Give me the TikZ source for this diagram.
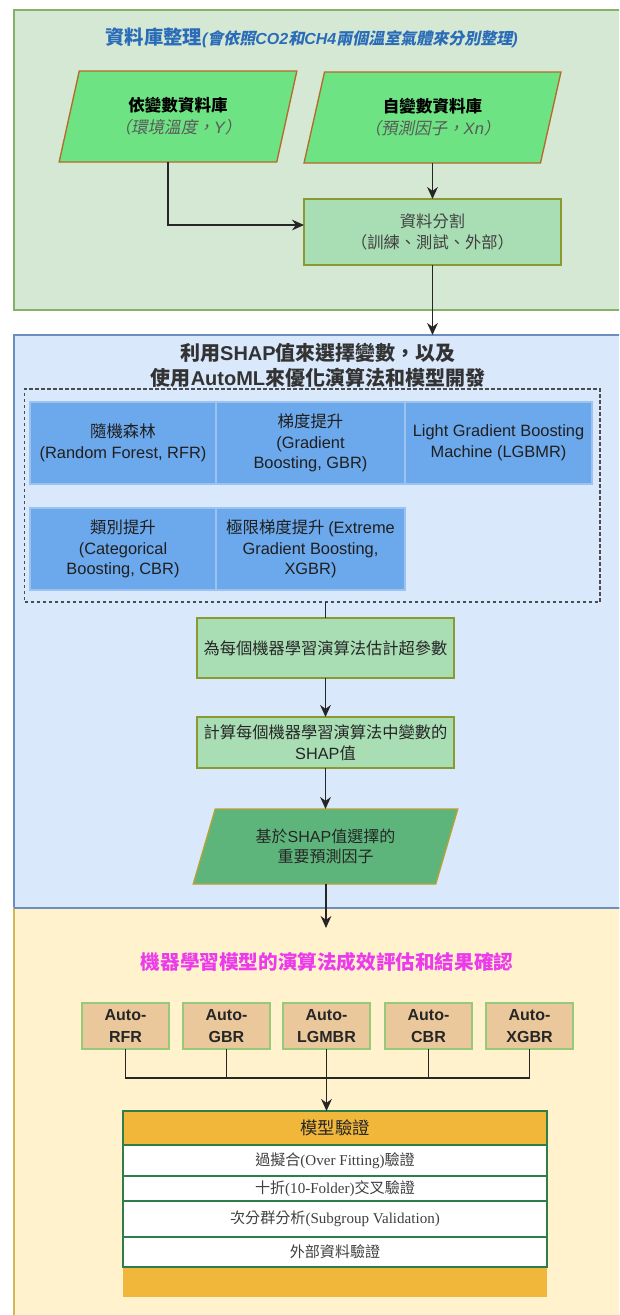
\documentclass[tikz,border=0pt]{standalone}
\usepackage{fontspec}
\setmainfont{Liberation Sans}
\newfontfamily\cjkfam{Noto Sans CJK TC}[
  ItalicFont={Noto Sans CJK TC},ItalicFeatures={FakeSlant=0.2},
  BoldItalicFont={Noto Sans CJK TC/B},BoldItalicFeatures={FakeSlant=0.2}]
\newfontfamily\latsans{Liberation Sans}
\newfontfamily\latserif{Liberation Serif}
\let\curlat\latsans
\XeTeXinterchartokenstate=1
\newXeTeXintercharclass\cjkclass
\newcount\cjkcc
\def\cjkrange#1#2{\cjkcc=#1\relax
  \loop\XeTeXcharclass\cjkcc=\cjkclass\relax
  \ifnum\cjkcc<#2\relax\advance\cjkcc by 1\relax\repeat}
\cjkrange{"3000}{"303F}
\cjkrange{"4E00}{"9FFF}
\cjkrange{"FF00}{"FFEF}
\XeTeXinterchartoks 0 \cjkclass = {\cjkfam}
\XeTeXinterchartoks 4095 \cjkclass = {\cjkfam}
\XeTeXinterchartoks \cjkclass 0 = {\curlat}
\XeTeXinterchartoks 4095 0 = {\curlat}
\usetikzlibrary{arrows.meta,shapes.geometric}
\definecolor{secGf}{HTML}{D5E8D4}\definecolor{secGd}{HTML}{82B366}
\definecolor{secBf}{HTML}{DAE8FC}\definecolor{secBd}{HTML}{6C8EBF}
\definecolor{secYf}{HTML}{FFF2CC}\definecolor{secYd}{HTML}{D6B656}
\definecolor{paraF}{HTML}{6EE383}\definecolor{paraD}{HTML}{B46A2A}
\definecolor{boxF}{HTML}{A9DDB4}\definecolor{boxD}{HTML}{8A9A30}
\definecolor{cellF}{HTML}{6CA8EC}\definecolor{cellD}{HTML}{9CC3F0}
\definecolor{darkF}{HTML}{5EB57C}\definecolor{darkD}{HTML}{B7A234}
\definecolor{autoF}{HTML}{EBC79C}\definecolor{autoD}{HTML}{97C97A}
\definecolor{hdrF}{HTML}{F0B73A}\definecolor{hdrD}{HTML}{2E7D4A}
\definecolor{ttlBlue}{HTML}{2B6CB8}\definecolor{ttlMag}{HTML}{EB3BEB}
\begin{document}
\begin{tikzpicture}[x=0.75pt,y=-0.75pt,
  every node/.style={inner sep=0pt,outer sep=0pt},
  wh/.style 2 args={minimum width=#1*0.75pt,minimum height=#2*0.75pt},
  conn/.style={line width=1.2pt,draw=black!85},
  arr/.style={conn,-{Stealth[length=9pt,width=8pt]}},
  para/.style={trapezium,trapezium stretches=true,draw=paraD,fill=paraF,line width=1pt,
    align=center,font=\fontsize{12.4}{16.5}\selectfont},
  greenbox/.style={rectangle,draw=boxD,fill=boxF,line width=1pt,align=center,
    text=black!85,font=\fontsize{12.2}{15.8}\selectfont},
  cell/.style={rectangle,draw=cellD,fill=cellF,line width=0.8pt,align=center,
    text=black!88,font=\fontsize{12.3}{15.5}\selectfont},
  autobox/.style={rectangle,draw=autoD,fill=autoF,line width=1pt,align=center,
    text=black!85,font=\bfseries\fontsize{12}{16.5}\selectfont,wh={87}{46}},
  rowbox/.style={rectangle,draw=hdrD,fill=white,line width=1pt,align=center,
    text=black!75,font=\let\curlat\latserif\fontsize{11.3}{13}\selectfont,wh={424}{#1}}
]
\useasboundingbox (0,0) rectangle (619,1315);
\clip (0,0) rectangle (619,1315);
% sections
\draw[fill=secGf,draw=secGd,line width=1.2pt] (14,10) rectangle (640,310);
\draw[fill=secBf,draw=secBd,line width=1.2pt] (14,335) rectangle (640,908);
\draw[fill=secYf,draw=secYd,line width=1.2pt] (14,908) rectangle (640,1340);
\draw[secBd,line width=1.2pt] (14,908) -- (640,908);

% --- section 1
\node[text=ttlBlue,font=\bfseries] (ttl1) at (311.5,38)
  {{\fontsize{14.5}{17}\selectfont 資料庫整理}{\itshape\fontsize{12}{14}\selectfont (會依照CO2和CH4兩個溫室氣體來分別整理)}};
\node[para,trapezium left angle=71.2,trapezium right angle=108.8,wh={238}{91}] (p1) at (178,116.5)
  {{\bfseries 依變數資料庫}\\{\itshape\color{black!65}（環境溫度，Y）}};
\node[para,trapezium left angle=71.2,trapezium right angle=108.8,wh={257}{91}] (p2) at (432.5,117.5)
  {{\bfseries 自變數資料庫}\\{\itshape\color{black!65}（預測因子，Xn）}};
\node[greenbox,wh={257}{66},text=black!75] (split) at (432.5,232)
  {資料分割\\（訓練、測試、外部）};
\coordinate (bt) at (432.5,335);
\draw[arr] (p1.bottom side) |- ([yshift=5.25pt]split.west);
\draw[arr] (p2.bottom side -| split.north) -- (split.north);
\draw[arr] (split.south) -- (bt);

% --- section 2
\node[text=black!80,font=\bfseries\fontsize{15}{19}\selectfont,align=center] (ttl2) at (318,365.5)
  {利用SHAP值來選擇變數，以及\\使用AutoML來優化演算法和模型開發};
\node[draw=black!70,dashed,dash pattern=on 2.5pt off 2pt,line width=0.9pt,wh={575.5}{213}] (dbox) at (312.25,495.5) {};
\node[cell,wh={186}{82}] (c1) at (123,443) {隨機森林\\(Random Forest, RFR)};
\node[cell,wh={189}{82}] (c2) at (310.5,443) {梯度提升\\(Gradient\\Boosting, GBR)};
\node[cell,wh={187}{82}] (c3) at (498.5,443) {Light Gradient Boosting\\Machine (LGBMR)};
\node[cell,wh={186}{82}] (c4) at (123,549) {類別提升\\(Categorical\\Boosting, CBR)};
\node[cell,wh={189}{82}] (c5) at (310.5,549) {極限梯度提升 (Extreme\\Gradient Boosting,\\XGBR)};
\node[greenbox,wh={257}{60}] (b1) at (325.5,648) {為每個機器學習演算法估計超參數};
\node[greenbox,wh={257}{51}] (b2) at (325.5,742.5) {計算每個機器學習演算法中變數的\\SHAP值};
\node[para,draw=darkD,fill=darkF,text=black!85,font=\fontsize{12}{15}\selectfont,
  trapezium left angle=68.2,trapezium right angle=111.8,wh={265}{75}] (p3) at (325.5,846.5)
  {基於SHAP值選擇的\\重要預測因子};
\coordinate (yt) at (326,928);
\draw[conn] (b1.north |- dbox.south) -- (b1.north);
\draw[arr] (b1.south) -- (b2.north);
\draw[arr] (b2.south) -- (b2.south |- p3.top side);
\draw[arr] (yt |- p3.bottom side) -- (yt);

% --- section 3
\node[text=ttlMag,font=\bfseries\fontsize{14.7}{17}\selectfont] (ttl3) at (327,962)
  {機器學習模型的演算法成效評估和結果確認};
\node[autobox] (a1) at (125.5,1026) {Auto-\\RFR};
\node[autobox] (a2) at (226.5,1026) {Auto-\\GBR};
\node[autobox] (a3) at (326.5,1026) {Auto-\\LGMBR};
\node[autobox] (a4) at (428.5,1026) {Auto-\\CBR};
\node[autobox] (a5) at (529.5,1026) {Auto-\\XGBR};
\coordinate (j) at (326.5,1078);
\node[fill=hdrF,wh={424}{30}] (band) at (335,1282) {};
\node[rowbox=34,fill=hdrF,text=black!85,font=\fontsize{13}{15}\selectfont] (hdr) at (335,1128) {模型驗證};
\node[rowbox=31] (r1) at (335,1160.5) {過擬合(Over Fitting)驗證};
\node[rowbox=25] (r2) at (335,1188.5) {十折(10-Folder)交叉驗證};
\node[rowbox=36] (r3) at (335,1219) {次分群分析(Subgroup Validation)};
\node[rowbox=30] (r4) at (335,1252) {外部資料驗證};
\draw[conn] (a1.south) -- (a1.south |- j) -- (a5.south |- j) -- (a5.south);
\draw[conn] (a2.south) -- (a2.south |- j);
\draw[conn] (a3.south) -- (j);
\draw[conn] (a4.south) -- (a4.south |- j);
\draw[arr] (j) -- (j |- hdr.north);
\end{tikzpicture}
\end{document}
